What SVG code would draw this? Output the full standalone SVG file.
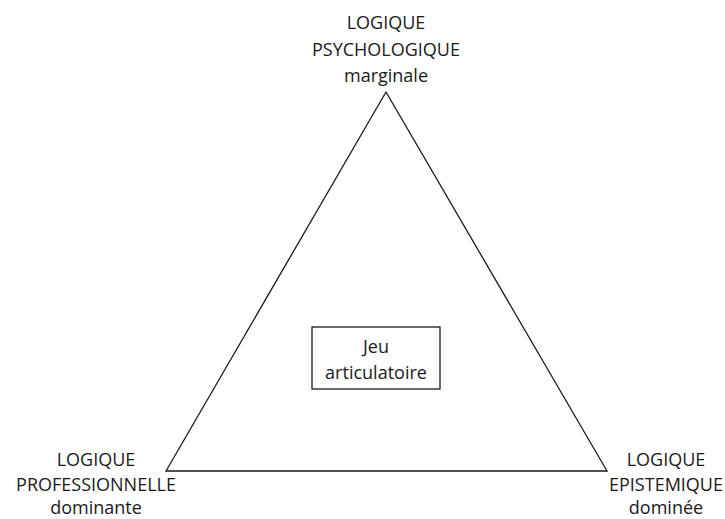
<svg xmlns="http://www.w3.org/2000/svg" width="725" height="519" viewBox="0 0 725 519">
  <style>
    .lbl { font-family: "Open Sans", "Liberation Sans", Arial, sans-serif; font-size: 18px; fill: #1a1a1a; text-anchor: middle; }
    .edge { fill: none; stroke: #1a1a1a; stroke-width: 1.3; }
  </style>
  <rect width="725" height="519" fill="#ffffff"/>
  <g id="connectors">
    <polygon class="edge" points="386,92 166,471 607,471"/>
  </g>
  <g id="node-psychologique">
    <text class="lbl" x="386" y="29">LOGIQUE</text>
    <text class="lbl" x="386" y="55.5">PSYCHOLOGIQUE</text>
    <text class="lbl" x="386" y="82">marginale</text>
  </g>
  <g id="node-professionnelle">
    <text class="lbl" x="96" y="466">LOGIQUE</text>
    <text class="lbl" x="96" y="491">PROFESSIONNELLE</text>
    <text class="lbl" x="96" y="514">dominante</text>
  </g>
  <g id="node-epistemique">
    <text class="lbl" x="666" y="466">LOGIQUE</text>
    <text class="lbl" x="666" y="491">EPISTEMIQUE</text>
    <text class="lbl" x="666" y="514">dominée</text>
  </g>
  <g id="node-jeu">
    <rect x="312" y="327" width="128" height="62" fill="#ffffff" stroke="#1a1a1a" stroke-width="1.3"/>
    <text class="lbl" x="376" y="353">Jeu</text>
    <text class="lbl" x="376" y="379">articulatoire</text>
  </g>
</svg>
